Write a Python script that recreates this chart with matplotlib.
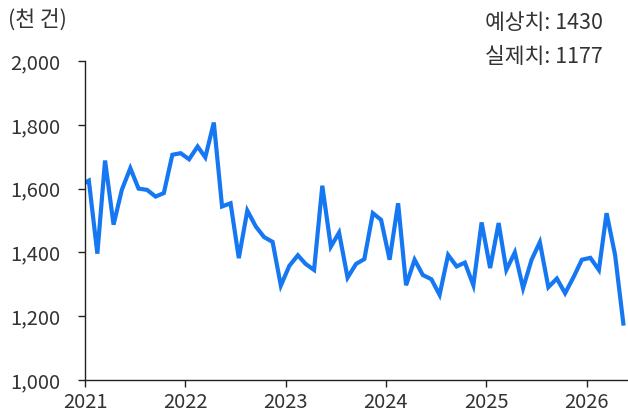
import matplotlib
matplotlib.use("Agg")
import matplotlib.pyplot as plt
import pandas as pd

plt.rcParams['font.family'] = ['Noto Sans CJK KR', 'DejaVu Sans']

# 월별 값 (천 건), 2020-12 ~ 2026-05 (월 중순에 표시)
months = pd.date_range("2020-12-01", periods=66, freq="MS") + pd.Timedelta(days=14)
values = [1610,
          1625, 1396, 1688, 1487, 1596, 1664, 1600, 1596, 1575, 1586, 1706, 1711,
          1692, 1732, 1698, 1807, 1544, 1554, 1382, 1531, 1481, 1448, 1433, 1296,
          1358, 1391, 1364, 1345, 1609, 1418, 1462, 1321, 1364, 1379, 1523, 1502,
          1377, 1554, 1297, 1377, 1329, 1316, 1267, 1392, 1356, 1368, 1297, 1494,
          1351, 1492, 1345, 1400, 1288, 1377, 1432, 1291, 1318, 1272, 1323, 1377,
          1383, 1345, 1523, 1392, 1177]
year_ticks = [str(y) for y in range(2021, 2027)]
y_ticks = [1000, 1200, 1400, 1600, 1800, 2000]
forecast = 1430
actual = 1177

text_color = "#333333"
fs = 14.5

fig = plt.figure(figsize=(6.28, 4.16), dpi=100)
ax = fig.add_axes([85 / 628, 1 - 380 / 416, (628 - 85) / 628, (380 - 61) / 416])

ax.plot(months, values, color="#1677F2", linewidth=3, solid_joinstyle="miter")

ax.set_xlim(pd.Timestamp("2021-01-01"), pd.Timestamp("2026-06-01"))
ax.set_ylim(1000, 2000)
ax.set_xticks([pd.Timestamp(f"{y}-01-01") for y in year_ticks])
ax.set_xticklabels(year_ticks)
ax.set_yticks(y_ticks)
ax.set_yticklabels([f"{v:,}" for v in y_ticks])

for side in ["top", "right"]:
    ax.spines[side].set_visible(False)
for side in ["left", "bottom"]:
    ax.spines[side].set_color("#222222")
    ax.spines[side].set_linewidth(1)
ax.tick_params(axis="both", direction="out", length=5, width=1, color="#222222",
               labelsize=fs, labelcolor=text_color)
ax.tick_params(axis="x", pad=4)
ax.tick_params(axis="y", pad=13)

fig.text(8 / 628, 1 - 20 / 416, "(천 건)", fontsize=fs + 1, color=text_color,
         ha="left", va="center")
fig.text(603 / 628, 1 - 23 / 416, f"예상치: {forecast}", fontsize=fs + 1, color=text_color,
         ha="right", va="center")
fig.text(603 / 628, 1 - 57 / 416, f"실제치: {actual}", fontsize=fs + 1, color=text_color,
         ha="right", va="center")

fig.savefig("out.png", dpi=100)
